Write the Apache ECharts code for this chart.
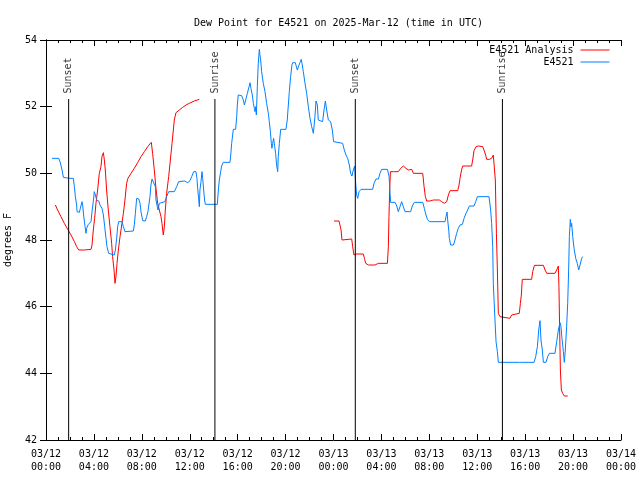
<!DOCTYPE html>
<html>
<head>
<meta charset="utf-8">
<script src="https://cdn.jsdelivr.net/npm/echarts@6/dist/echarts.min.js"></script>
<style>html,body{margin:0;padding:0;background:#fff}#c{width:640px;height:480px}</style>
</head>
<body>
<div id="c"></div>
<script>
// Hours since 03/12 00:00 UTC
const xTickLabels = ['03/12\n00:00','03/12\n04:00','03/12\n08:00','03/12\n12:00','03/12\n16:00','03/12\n20:00',
  '03/13\n00:00','03/13\n04:00','03/13\n08:00','03/13\n12:00','03/13\n16:00','03/13\n20:00','03/14\n00:00'];

const sunTimes = [1.89, 14.1, 25.82, 38.1];
const sunLabels = ['Sunset', 'Sunrise', 'Sunset', 'Sunrise'];
const sunLineTop = 52.23;

const analysisHours = [0.78,0.97,1.25,1.53,1.81,2.09,2.37,2.56,2.73,3.20,3.34,3.76,3.84,3.95,4.06,4.17,4.31,4.45,4.59,4.67,4.79,4.87,4.95,5.06,5.20,5.34,5.48,5.56,5.68,5.76,5.84,5.93,6.04,6.18,6.34,6.46,6.59,6.73,6.84,7.10,7.37,7.65,7.93,8.21,8.49,8.79,8.90,9.04,9.18,9.32,9.46,9.60,9.68,9.79,9.88,9.96,10.07,10.24,10.38,10.52,10.63,10.71,10.85,11.13,11.41,11.69,11.96,12.38,12.80,
  18.0,
  24.04,24.46,24.54,24.63,24.71,24.82,25.52,25.60,25.71,25.80,25.88,26.49,26.58,26.69,26.91,27.47,27.74,28.50,28.58,28.63,28.69,28.75,29.00,29.14,29.41,29.61,29.83,30.05,30.25,30.53,30.67,31.45,31.56,31.67,31.78,32.06,32.34,32.84,33.03,33.25,33.45,33.59,33.73,34.37,34.48,34.56,34.70,34.78,35.53,35.62,35.73,35.90,36.09,36.45,36.56,36.70,36.79,37.01,37.20,37.34,37.45,37.51,37.60,37.68,37.76,37.90,38.04,38.73,38.87,39.01,39.51,39.60,39.68,39.76,40.54,40.63,40.77,41.52,41.66,41.80,42.49,42.63,42.77,42.82,42.88,42.94,43.02,43.13,43.27,43.55];
const analysisValues = [49.05,48.90,48.70,48.50,48.32,48.15,47.95,47.80,47.70,47.70,47.72,47.72,47.85,48.30,48.65,49.10,49.50,50.00,50.20,50.50,50.62,50.40,50.10,49.50,48.90,48.40,47.90,47.50,47.10,46.70,46.90,47.30,47.70,48.10,48.50,48.80,49.20,49.70,49.85,50.00,50.15,50.32,50.50,50.65,50.80,50.93,50.60,50.10,49.55,49.10,48.90,48.70,48.50,48.15,48.40,48.90,49.40,49.90,50.40,50.90,51.30,51.60,51.82,51.90,51.98,52.05,52.10,52.17,52.22,
  null,
  48.57,48.57,48.45,48.30,48.00,48.03,48.03,47.80,47.55,47.50,47.58,47.58,47.45,47.30,47.25,47.25,47.30,47.30,47.80,48.70,49.50,50.05,50.05,50.07,50.05,50.15,50.22,50.15,50.10,50.12,50.00,50.00,49.60,49.30,49.17,49.17,49.20,49.20,49.15,49.10,49.15,49.35,49.48,49.48,49.65,49.85,50.12,50.22,50.22,50.40,50.68,50.80,50.82,50.80,50.70,50.55,50.42,50.42,50.45,50.55,50.60,49.80,48.20,47.10,45.80,45.70,45.65,45.65,45.75,45.80,45.80,46.10,46.35,46.82,46.82,47.05,47.24,47.24,47.10,47.00,47.00,47.10,47.22,46.60,45.30,44.10,43.50,43.40,43.32,43.32];

const stationHours = [0.50,1.06,1.17,1.34,1.45,1.53,1.95,2.28,2.37,2.45,2.56,2.59,2.78,2.87,3.00,3.06,3.14,3.26,3.34,3.39,3.53,3.67,3.76,3.84,3.95,4.03,4.12,4.23,4.40,4.51,4.67,4.79,4.90,5.01,5.09,5.23,5.70,5.79,5.90,5.98,6.07,6.34,6.46,6.59,7.29,7.37,7.46,7.57,7.74,7.85,7.93,8.07,8.29,8.40,8.51,8.68,8.76,8.85,9.01,9.13,9.18,9.29,9.35,9.46,9.54,9.93,10.07,10.24,10.71,10.91,11.07,11.55,11.83,12.02,12.16,12.33,12.52,12.60,12.66,12.74,12.80,12.85,12.94,13.02,13.08,13.16,13.24,13.30,
  14.30,14.39,14.47,14.58,14.66,14.80,15.36,15.42,15.50,15.58,15.64,15.83,15.92,15.97,16.05,16.33,16.47,16.56,16.67,16.81,16.95,17.03,17.11,17.22,17.31,17.39,17.45,17.50,17.56,17.64,17.72,17.81,17.86,17.92,18.00,18.14,18.28,18.42,18.56,18.64,18.73,18.81,18.86,18.92,19.00,19.09,19.17,19.25,19.34,19.39,19.48,19.59,20.03,20.14,20.23,20.31,20.42,20.53,20.59,20.81,20.98,21.09,21.20,21.31,21.37,21.48,21.62,21.76,21.90,22.04,22.18,22.32,22.45,22.54,22.65,22.73,22.87,23.09,23.21,23.32,23.43,23.57,23.76,23.90,24.01,24.10,24.76,24.90,25.04,25.18,25.32,25.43,25.54,25.65,25.77,25.85,25.93,26.02,26.13,
  26.30,27.27,27.38,27.55,27.75,27.88,28.02,28.50,28.64,28.72,28.77,29.14,29.28,29.41,29.55,29.69,29.83,29.97,30.44,30.58,30.75,31.45,31.58,31.72,31.84,32.00,33.31,33.39,33.48,33.53,33.62,33.67,33.78,34.01,34.14,34.28,34.42,34.56,34.76,34.90,35.06,35.20,35.34,35.73,35.87,36.01,36.98,
  37.12,37.20,37.29,37.34,37.48,37.57,37.68,37.76,39.51,39.57,39.71,40.74,40.88,41.02,41.13,41.24,41.32,41.43,41.52,41.74,41.88,42.02,42.49,42.63,42.77,42.91,42.99,43.07,43.19,43.27,43.35,43.46,43.55,43.63,43.69,43.77,43.83,43.88,43.97,44.08,44.22,44.35,44.47,44.58,44.72,44.80];
const stationValues = [50.45,50.45,50.35,50.10,49.88,49.83,49.85,49.85,49.60,49.30,49.05,48.85,48.83,48.95,49.15,49.05,48.75,48.40,48.20,48.35,48.47,48.45,48.55,48.85,49.15,49.45,49.35,49.20,49.17,49.05,48.95,48.75,48.40,48.05,47.80,47.60,47.55,47.70,48.05,48.40,48.55,48.55,48.40,48.25,48.27,48.45,48.80,49.25,49.23,49.10,48.85,48.58,48.57,48.70,48.85,49.30,49.65,49.83,49.85,49.60,49.20,49.00,48.90,49.10,49.15,49.15,49.30,49.45,49.45,49.60,49.75,49.77,49.72,49.78,49.90,50.05,50.05,49.85,49.55,49.25,49.00,49.50,49.75,50.05,49.85,49.50,49.20,49.07,
  49.07,49.50,49.80,50.05,50.22,50.33,50.33,50.55,50.90,51.15,51.32,51.32,51.70,52.05,52.35,52.33,52.20,52.05,52.20,52.40,52.60,52.72,52.55,52.35,52.10,51.95,51.85,52.00,51.75,52.60,53.30,53.72,53.55,53.40,53.05,52.70,52.45,52.10,51.80,51.55,51.25,50.90,50.75,50.90,51.05,50.80,50.60,50.25,50.05,50.50,50.90,51.32,51.32,51.60,52.05,52.45,52.90,53.25,53.32,53.32,53.10,53.22,53.32,53.42,53.30,53.05,52.70,52.40,52.00,51.65,51.40,51.20,51.70,52.17,52.05,51.60,51.55,51.55,51.90,52.17,51.90,51.60,51.55,51.30,50.95,50.90,50.90,50.70,50.55,50.45,50.25,50.00,49.92,50.10,50.22,49.70,49.35,49.25,49.45,
  49.52,49.52,49.70,49.83,49.83,50.00,50.12,50.12,49.90,49.40,49.13,49.13,49.02,48.85,49.00,49.15,49.00,48.85,48.85,49.02,49.13,49.13,48.95,48.75,48.62,48.55,48.55,48.70,48.84,48.60,48.30,48.05,47.85,47.85,48.00,48.20,48.35,48.45,48.47,48.65,48.80,48.90,49.02,49.02,49.15,49.30,49.30,
  48.90,48.50,47.80,46.70,45.60,44.95,44.65,44.33,44.33,44.37,44.33,44.33,44.50,44.80,45.30,45.58,45.00,44.70,44.33,44.33,44.50,44.60,44.60,44.95,45.30,45.52,45.40,45.05,44.65,44.33,44.70,45.40,46.10,47.10,48.10,48.62,48.40,48.50,48.10,47.75,47.45,47.30,47.10,47.25,47.45,47.50];

const zip = (a, b) => a.map((h, i) => [h, b[i]]);
const FONT = 'DejaVu Sans Mono';

const sunSeries = sunTimes.map((t, i) => ({
  type: 'line', silent: true, symbol: 'none', z: 5,
  lineStyle: { color: '#000', width: 1 },
  data: [[t, 42], [t, sunLineTop]],
  animation: false
}));

const chart = echarts.init(document.getElementById('c'), null, { renderer: 'canvas' });
chart.setOption({
  animation: false,
  backgroundColor: '#fff',
  textStyle: { fontFamily: FONT, fontSize: 10, color: '#000' },
  title: {
    text: 'Dew Point for E4521 on 2025-Mar-12 (time in UTC)',
    left: 333.5, top: 13, textAlign: 'center',
    textStyle: { fontFamily: FONT, fontSize: 10, fontWeight: 'normal', color: '#000' }
  },
  legend: {
    data: ['E4521 Analysis', 'E4521'],
    orient: 'vertical', align: 'right', right: 30, top: 45, padding: 0,
    itemWidth: 29, itemHeight: 10, itemGap: 2,
    itemStyle: { opacity: 0 },
    lineStyle: { width: 1 },
    textStyle: { fontFamily: FONT, fontSize: 10, color: '#000', padding: [0, 2, 0, 0] }
  },
  grid: { left: 46, right: 19, top: 40, bottom: 40, containLabel: false, outerBoundsMode: 'none' },
  xAxis: [{
    type: 'value', min: 0, max: 48, interval: 4,
    axisLine: { lineStyle: { color: '#000', width: 1 } },
    axisTick: { inside: true, length: 6, lineStyle: { color: '#000' } },
    minorTick: { show: true, splitNumber: 4, length: 3, lineStyle: { color: '#000' } },
    splitLine: { show: false },
    axisLabel: { margin: 8, lineHeight: 13, color: '#000', fontFamily: FONT, fontSize: 10,
      formatter: v => xTickLabels[Math.round(v / 4)] }
  }, {
    type: 'value', min: 0, max: 48, interval: 4, position: 'top',
    axisLine: { lineStyle: { color: '#000', width: 1 } },
    axisTick: { inside: true, length: 6, lineStyle: { color: '#000' } },
    minorTick: { show: true, splitNumber: 4, length: 3, lineStyle: { color: '#000' } },
    splitLine: { show: false }, axisLabel: { show: false }
  }],
  yAxis: [{
    type: 'value', min: 42, max: 54, interval: 2,
    name: 'degrees F', nameLocation: 'middle', nameGap: 33, nameRotate: 90,
    nameTextStyle: { fontFamily: FONT, fontSize: 10, color: '#000' },
    axisLine: { show: true, lineStyle: { color: '#000', width: 1 } },
    axisTick: { show: true, inside: true, length: 6, lineStyle: { color: '#000' } },
    splitLine: { show: false },
    axisLabel: { margin: 9, color: '#000', fontFamily: FONT, fontSize: 10 }
  }, {
    type: 'value', min: 42, max: 54, interval: 2, position: 'right',
    axisLine: { show: true, lineStyle: { color: '#000', width: 1 } },
    axisTick: { show: true, inside: true, length: 6, lineStyle: { color: '#000' } },
    splitLine: { show: false }, axisLabel: { show: false }
  }],
  series: [
    {
      name: 'E4521 Analysis', type: 'line', symbol: 'none', z: 2,
      lineStyle: { color: '#ff0000', width: 1 }, itemStyle: { color: '#ff0000' },
      connectNulls: false,
      data: zip(analysisHours, analysisValues)
    },
    {
      name: 'E4521', type: 'line', symbol: 'none', z: 3,
      lineStyle: { color: '#0080ff', width: 1 }, itemStyle: { color: '#0080ff' },
      data: zip(stationHours, stationValues)
    },
    ...sunSeries,
    {
      type: 'scatter', silent: true, symbolSize: 1, z: 6,
      itemStyle: { color: 'rgba(0,0,0,0)' },
      data: sunTimes.map((t, i) => ({
        value: [t, sunLineTop],
        label: {
          show: true, formatter: sunLabels[i], position: 'top', distance: 5,
          rotate: 90, align: 'left', verticalAlign: 'middle',
          fontFamily: FONT, fontSize: 10, color: '#000'
        }
      }))
    }
  ]
});
</script>
</body>
</html>
